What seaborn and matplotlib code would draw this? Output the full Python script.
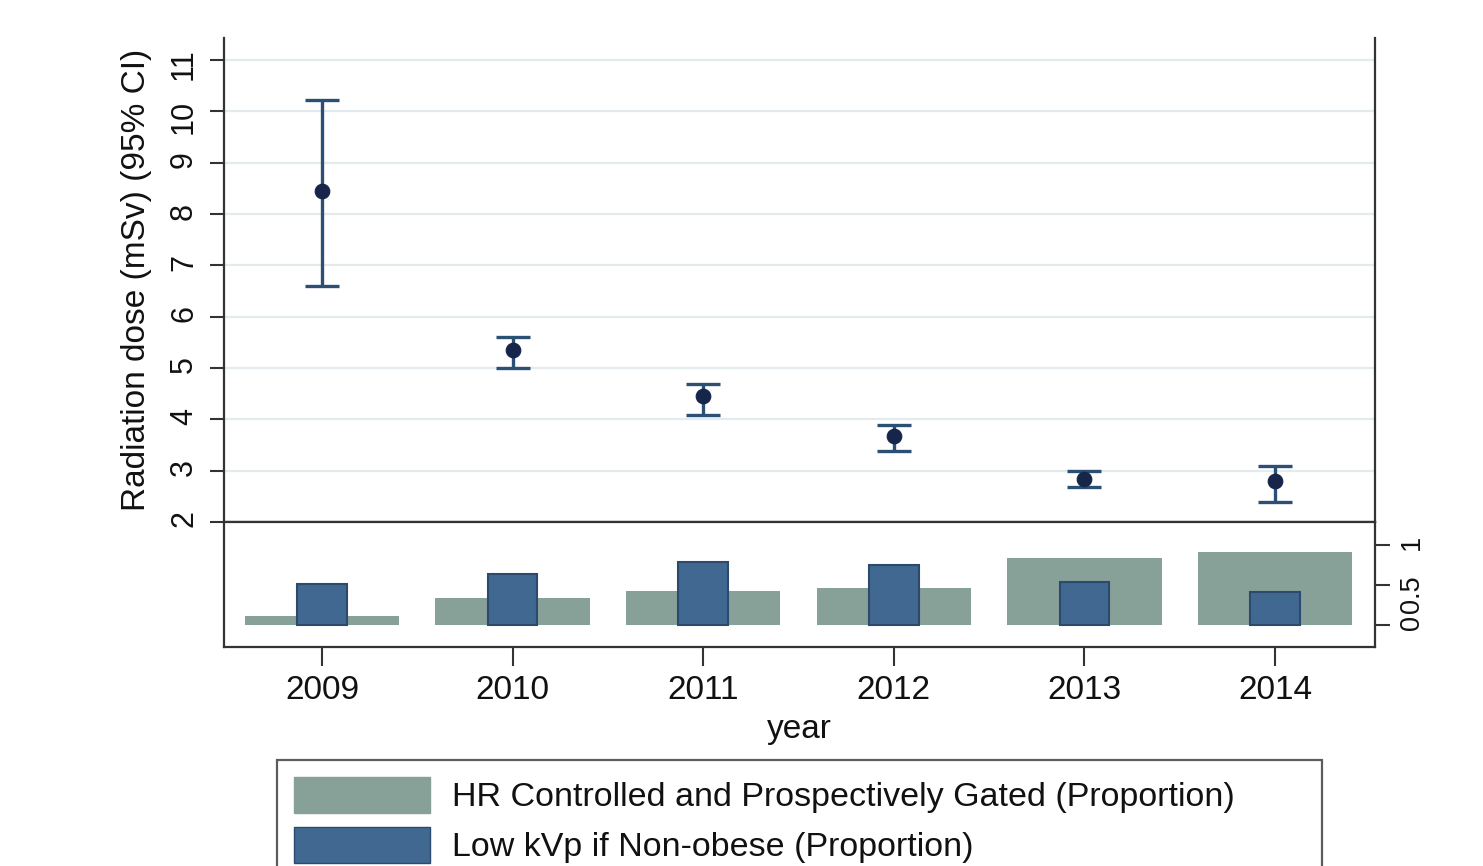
import numpy as np
import matplotlib
matplotlib.use('Agg')
import matplotlib.pyplot as plt
import seaborn as sns
from matplotlib.patches import Patch

# values
years = [2009, 2010, 2011, 2012, 2013, 2014]
dose_mean = [8.45, 5.35, 4.46, 3.68, 2.84, 2.80]
dose_lo = [6.60, 5.00, 4.09, 3.38, 2.68, 2.39]
dose_hi = [10.22, 5.60, 4.69, 3.89, 3.00, 3.09]
hr_gated = [0.11, 0.34, 0.42, 0.46, 0.83, 0.91]
low_kvp = [0.51, 0.63, 0.78, 0.75, 0.53, 0.41]

dose_ticks = list(range(2, 12))
prop_ticks = [0, 0.5, 1]
prop_ticklabels = ['0', '0.5', '1']
legend_labels = ['HR Controlled and Prospectively Gated (Proportion)',
                 'Low kVp if Non-obese (Proportion)']

green = '#87a198'
blue = '#416890'
blue_edge = '#2b4a6e'
err_col = '#2c4f74'
pt_col = '#16254a'
spine_col = '#333333'

sns.set_style('white')
plt.rcParams['font.family'] = ['Liberation Sans', 'DejaVu Sans']
plt.rcParams['text.color'] = '#111111'
plt.rcParams['axes.labelcolor'] = '#111111'
plt.rcParams['xtick.labelcolor'] = '#111111'
plt.rcParams['ytick.labelcolor'] = '#111111'

W, H = 1483, 866
fig = plt.figure(figsize=(W / 100, H / 100), dpi=100)
fig.patch.set_facecolor('white')

x0, x1 = 224, 1375
ax1 = fig.add_axes([x0 / W, 1 - 522 / H, (x1 - x0) / W, (522 - 38) / H])
ax2 = fig.add_axes([x0 / W, 1 - 647 / H, (x1 - x0) / W, (647 - 522) / H])

# top panel: mean dose with 95% CI
yerr = [np.subtract(dose_mean, dose_lo), np.subtract(dose_hi, dose_mean)]
ax1.errorbar(years, dose_mean, yerr=yerr, fmt='none', ecolor=err_col,
             elinewidth=2.4, capsize=12, capthick=2.4, zorder=3)
sns.scatterplot(x=years, y=dose_mean, ax=ax1, color=pt_col, s=110,
                edgecolor=pt_col, zorder=4)

ax1.set_ylim(2, 11.43)
ax1.set_yticks(dose_ticks)
ax1.yaxis.grid(True, color='#e4ebee', lw=1.6)
ax1.set_axisbelow(True)
ax1.set_ylabel('Radiation dose (mSv) (95% CI)', fontsize=24, labelpad=12)
ax1.tick_params(axis='y', left=True, direction='out', length=10, width=1.5,
                color=spine_col, labelsize=22, labelrotation=90, pad=8)
ax1.tick_params(axis='x', bottom=False, labelbottom=False)
ax1.spines['top'].set_visible(False)
for s in ['left', 'right', 'bottom']:
    ax1.spines[s].set_color(spine_col)
    ax1.spines[s].set_linewidth(1.6)

# bottom panel: proportions
sns.barplot(x=years, y=hr_gated, native_scale=True, width=0.81, color=green,
            errorbar=None, ax=ax2, linewidth=0, saturation=1)
sns.barplot(x=years, y=low_kvp, native_scale=True, width=0.26, color=blue,
            errorbar=None, ax=ax2, edgecolor=blue_edge, linewidth=1.5,
            saturation=1)

ax2.set_ylim(-0.27, 1.28)
ax2.yaxis.tick_right()
ax2.set_yticks(prop_ticks)
ax2.set_yticklabels(prop_ticklabels)
ax2.set_ylabel('')
ax2.tick_params(axis='y', right=True, left=False, direction='out', length=11,
                width=1.5, color=spine_col, labelsize=19.5, labelrotation=90,
                pad=6)
ax2.set_xticks(years)
ax2.set_xticklabels([str(y) for y in years])
ax2.tick_params(axis='x', bottom=True, direction='out', length=14, width=1.5,
                color=spine_col, labelsize=24, pad=6)
ax2.set_xlabel('year', fontsize=24, labelpad=6)
for s in ['left', 'right', 'bottom', 'top']:
    ax2.spines[s].set_color(spine_col)
    ax2.spines[s].set_linewidth(1.6)

for ax in (ax1, ax2):
    ax.set_xlim(2008.486, 2014.525)

handles = [Patch(facecolor=green, edgecolor=green),
           Patch(facecolor=blue, edgecolor=blue_edge)]
leg = fig.legend(handles=handles, labels=legend_labels, loc='upper left',
                 bbox_to_anchor=(277 / W, 1 - 760 / H, (1322 - 277) / W, 0),
                 mode='expand', borderaxespad=0, fontsize=24.5,
                 handlelength=4.0, handleheight=1.25, handletextpad=0.65,
                 labelspacing=0.4, borderpad=0.5, frameon=True,
                 fancybox=False)
leg.get_frame().set_edgecolor(spine_col)
leg.get_frame().set_linewidth(1.6)

fig.savefig('out.png', dpi=100)
